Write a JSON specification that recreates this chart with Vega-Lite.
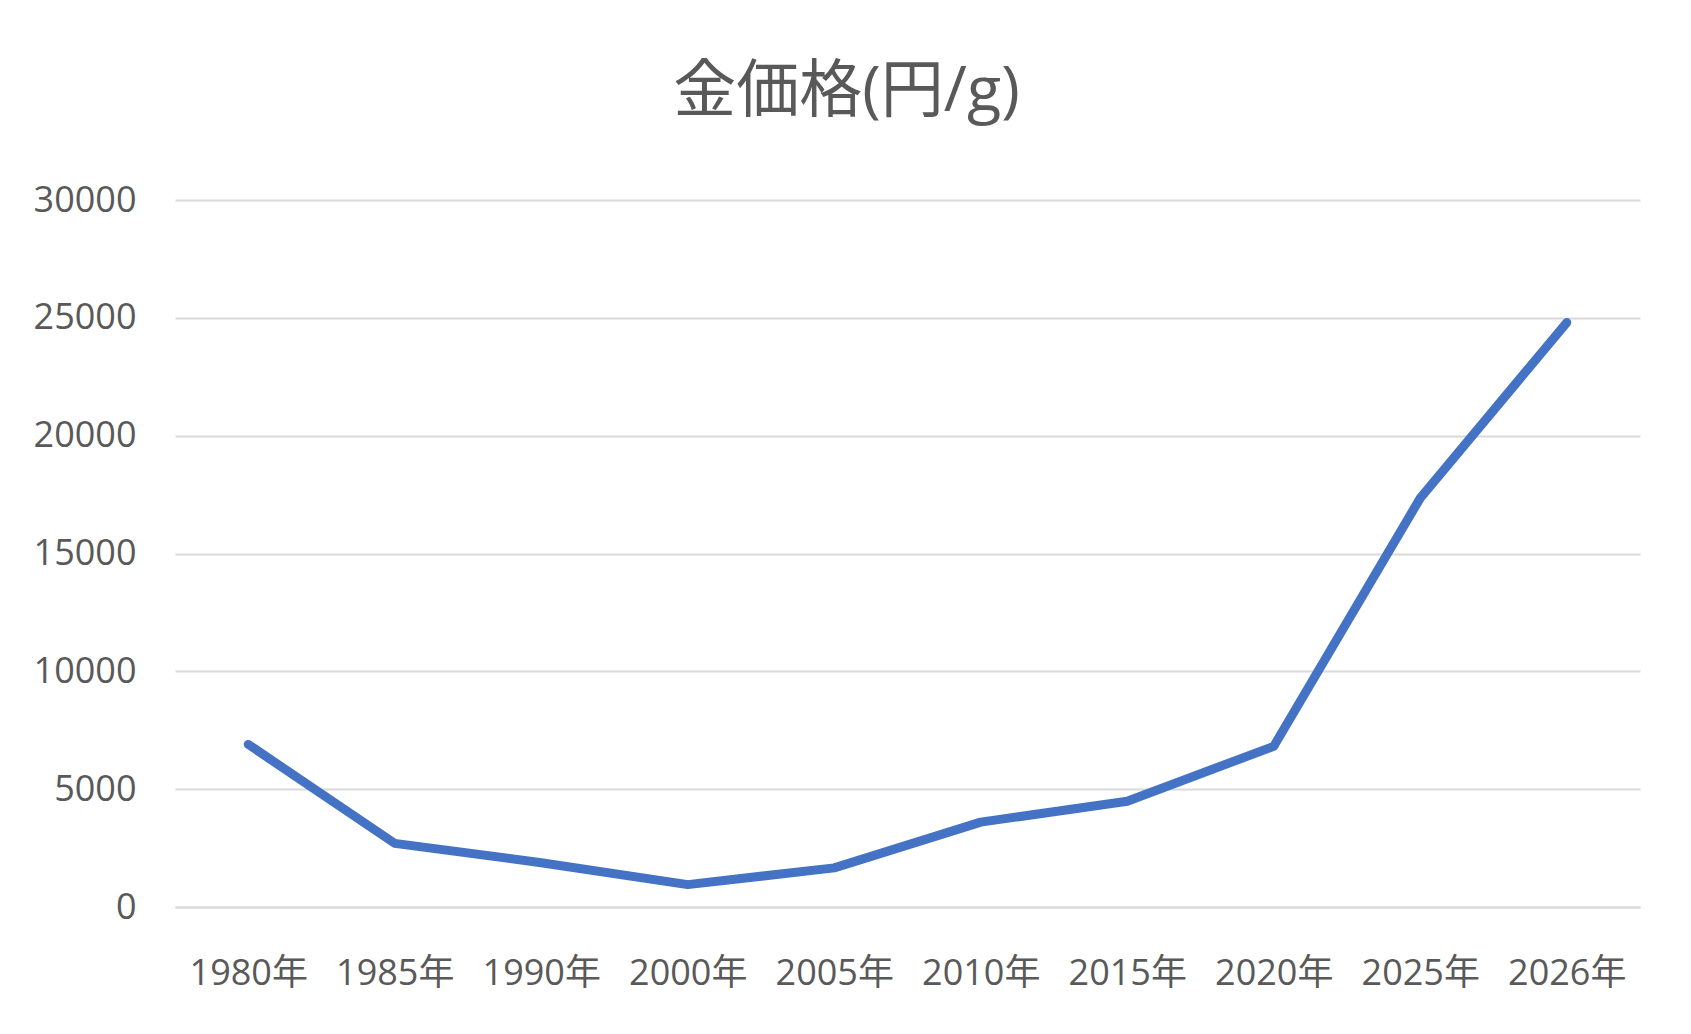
{
  "$schema": "https://vega.github.io/schema/vega-lite/v6.json",
  "width": 1465,
  "height": 707,
  "autosize": "none",
  "padding": {"left": 175, "top": 200, "right": 51, "bottom": 127},
  "background": "#ffffff",
  "title": {
    "text": "金価格(円/g)",
    "font": "Open Sans, Noto Sans CJK JP",
    "fontSize": 63,
    "fontWeight": "normal",
    "color": "#595959",
    "anchor": "middle",
    "dx": -61,
    "baseline": "alphabetic",
    "offset": 8
  },
  "data": {
    "values": [
      {"year": "1980年", "price": 6900},
      {"year": "1985年", "price": 2700},
      {"year": "1990年", "price": 1880},
      {"year": "2000年", "price": 950},
      {"year": "2005年", "price": 1660},
      {"year": "2010年", "price": 3600},
      {"year": "2015年", "price": 4490},
      {"year": "2020年", "price": 6820},
      {"year": "2025年", "price": 17350},
      {"year": "2026年", "price": 24800}
    ]
  },
  "mark": {"type": "line", "color": "#4472C4", "strokeWidth": 9, "strokeCap": "round", "strokeJoin": "round"},
  "encoding": {
    "x": {
      "field": "year",
      "type": "ordinal",
      "sort": null,
      "scale": {"type": "point", "padding": 0.5},
      "axis": {
        "title": null,
        "labelAngle": 0,
        "labelFont": "Open Sans, Noto Sans CJK JP",
        "labelFontSize": 36,
        "labelColor": "#595959",
        "labelPadding": 49,
        "ticks": false,
        "domain": true,
        "domainColor": "#d9d9d9",
        "domainWidth": 2,
        "grid": false
      }
    },
    "y": {
      "field": "price",
      "type": "quantitative",
      "scale": {"domain": [0, 30000], "nice": false},
      "axis": {
        "title": null,
        "values": [0, 5000, 10000, 15000, 20000, 25000, 30000],
        "format": "d",
        "labelFont": "Open Sans, Noto Sans CJK JP",
        "labelFontSize": 36,
        "labelColor": "#595959",
        "labelPadding": 39,
        "ticks": false,
        "domain": false,
        "grid": true,
        "gridColor": "#d9d9d9",
        "gridWidth": 2
      }
    }
  },
  "config": {"view": {"stroke": null}}
}
